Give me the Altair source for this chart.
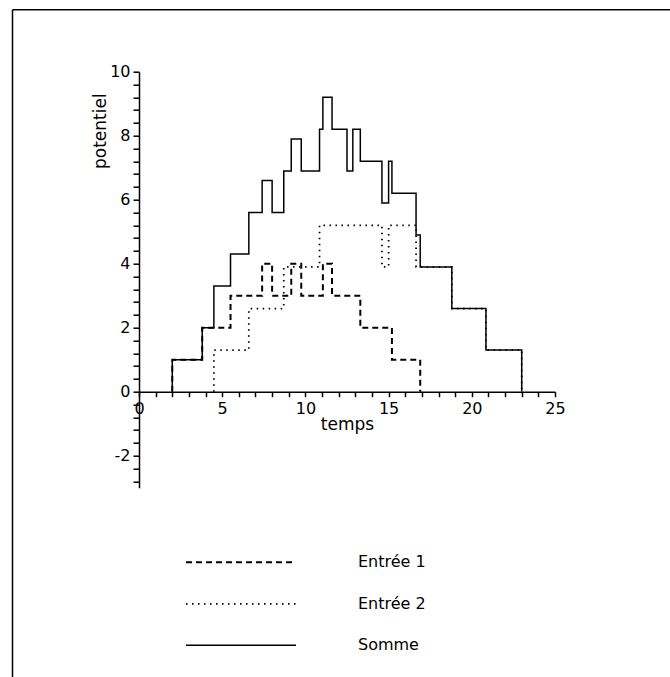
import altair as alt
import pandas as pd

# ---- data ----
series = ["Entrée 1", "Entrée 2", "Somme"]

entree1_t = [2, 2, 3.8, 5.5, 7.4, 8.0, 9.15, 9.75, 11.05, 11.6, 13.3, 15.2, 16.9]
entree1_v = [0, 1, 2, 3, 4, 3, 4, 3, 4, 3, 2, 1, 0]

entree2_t = [4.5, 4.5, 6.6, 8.7, 10.85, 14.6, 15.0, 16.65, 18.8, 20.85, 23]
entree2_v = [0, 1.3, 2.6, 3.9, 5.2, 3.9, 5.2, 3.9, 2.6, 1.3, 0]

somme_t = [2, 2, 3.8, 4.5, 5.5, 6.6, 7.4, 8.0, 8.7, 9.15, 9.75, 10.85, 11.05,
           11.6, 12.5, 12.85, 13.3, 14.6, 15.0, 15.2, 16.65, 16.9, 18.8, 20.85, 23]
somme_v = [0, 1, 2, 3.3, 4.3, 5.6, 6.6, 5.6, 6.9, 7.9, 6.9, 8.2, 9.2,
           8.2, 6.9, 8.2, 7.2, 5.9, 7.2, 6.2, 4.9, 3.9, 2.6, 1.3, 0]

x_ticks = list(range(0, 26))
y_ticks = [round(10 - 0.4 * k, 1) for k in range(33)]

rows = []
for name, ts, vs in [(series[0], entree1_t, entree1_v),
                     (series[1], entree2_t, entree2_v),
                     (series[2], somme_t, somme_v)]:
    for i, (t, v) in enumerate(zip(ts, vs)):
        rows.append({"serie": name, "t": t, "v": v, "i": i})
df = pd.DataFrame(rows)

FONT = "DejaVu Sans"

lines = alt.Chart(df).mark_line(interpolate="step-after", color="black").encode(
    x=alt.X("t:Q",
            scale=alt.Scale(domain=[0, 25], nice=False, zero=False),
            axis=alt.Axis(title="temps", values=x_ticks,
                          labelExpr="datum.value % 5 === 0 ? toString(datum.value) : ''",
                          offset=-96, grid=False, labelFlush=False, labelOverlap=False,
                          tickSize=5, labelPadding=4,
                          titleY=33, titleBaseline="middle")),
    y=alt.Y("v:Q",
            scale=alt.Scale(domain=[-3, 10], nice=False, zero=False),
            axis=alt.Axis(title="potentiel", values=y_ticks,
                          labelExpr="(datum.value * 10) % 20 === 0 ? toString(datum.value) : ''",
                          grid=False, labelFlush=False, labelOverlap=False,
                          tickSize=6, labelPadding=3,
                          titleX=-39, titleY=59, titleAngle=-90,
                          titleAlign="center", titleBaseline="middle")),
    strokeDash=alt.StrokeDash("serie:N",
                              scale=alt.Scale(domain=series, range=[[6, 4], [1.5, 4.5], [1, 0]]),
                              legend=alt.Legend(orient="none", legendX=46, legendY=480.6,
                                                title=None, symbolType="stroke",
                                                symbolSize=12100, symbolStrokeColor="black",
                                                symbolStrokeWidth=1.5,
                                                labelFont=FONT, labelFontSize=16,
                                                labelColor="black", labelOffset=61,
                                                clipHeight=20, rowPadding=21.5)),
    strokeWidth=alt.StrokeWidth("serie:N",
                                scale=alt.Scale(domain=series, range=[2, 1.5, 2]),
                                legend=None),
    order=alt.Order("i:Q"),
)

frame_df = pd.DataFrame({"k": [0]})
frame_left = alt.Chart(frame_df).mark_rule(color="black", strokeWidth=1.5).encode(
    x=alt.value(-126.5), y=alt.value(-62), y2=alt.value(610))
frame_top = alt.Chart(frame_df).mark_rule(color="black", strokeWidth=1.5).encode(
    x=alt.value(-126.5), x2=alt.value(540), y=alt.value(-62))

chart = alt.layer(lines, frame_left, frame_top).properties(
    width=416, height=416,
    autosize=alt.AutoSizeParams(type="none"),
    padding={"left": 139, "top": 71.7, "right": 115, "bottom": 189.3},
    background="white",
).configure_view(stroke=None).configure_axis(
    domainColor="black", domainWidth=1.5, tickColor="black", tickWidth=1.5,
    labelColor="black", labelFont=FONT, labelFontSize=16,
    titleColor="black", titleFont=FONT, titleFontSize=17, titleFontWeight="normal",
)

chart.save("out.html", embed_options={"renderer": "svg", "actions": False})
